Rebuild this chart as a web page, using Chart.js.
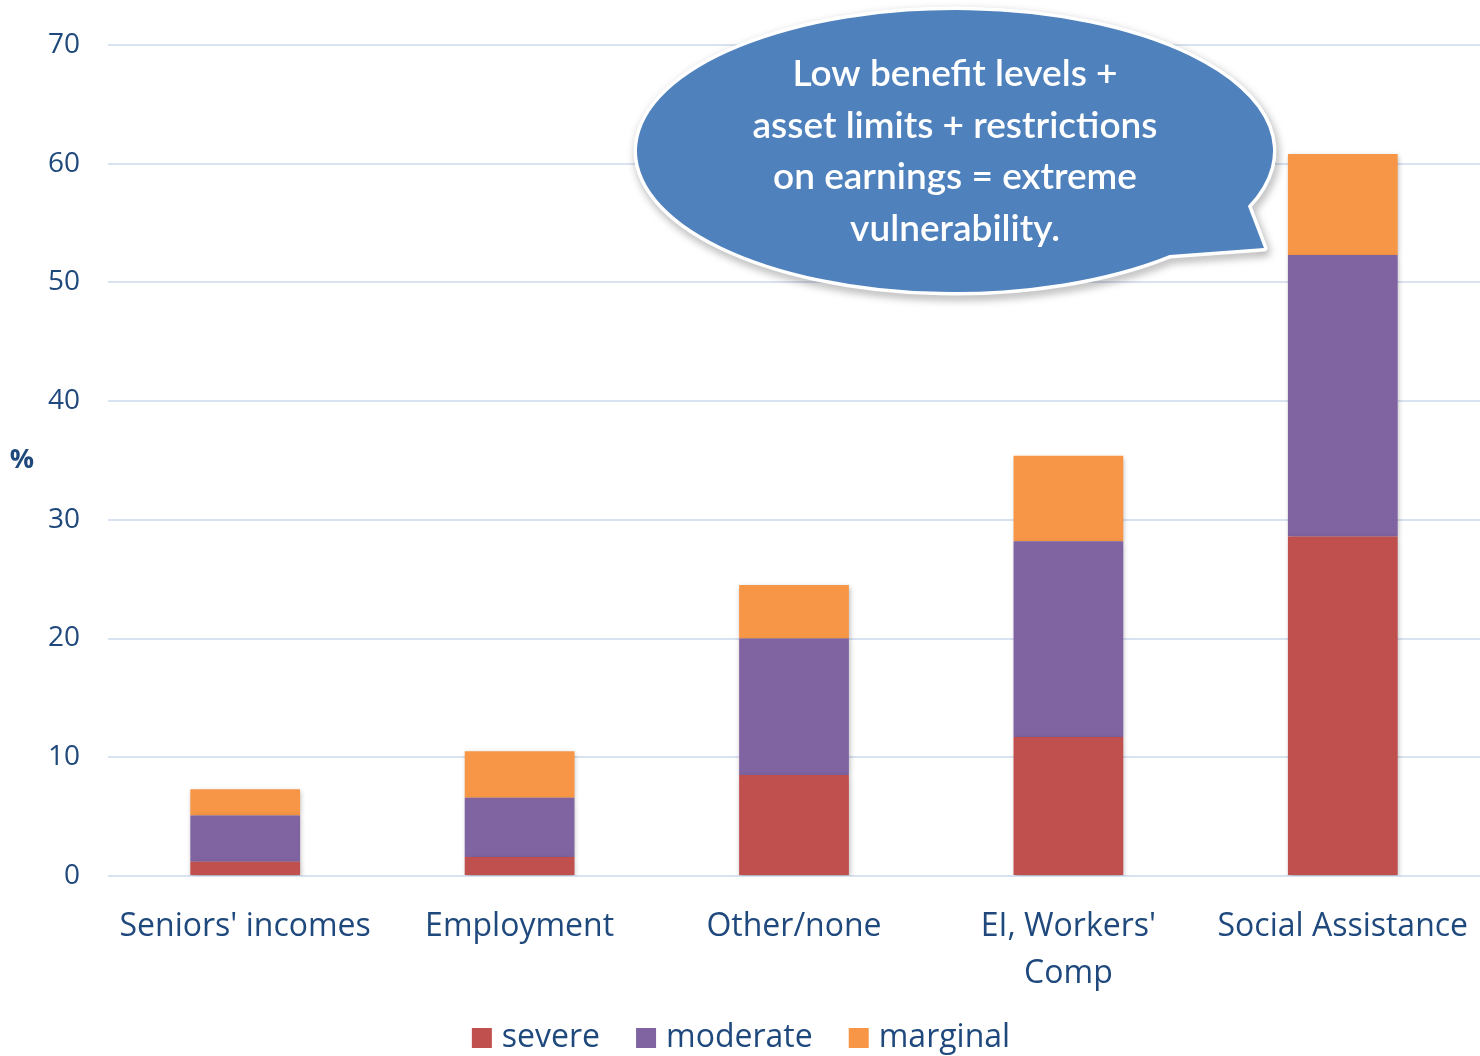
<!DOCTYPE html>
<html>
<head>
<meta charset="utf-8">
<script src="https://cdn.jsdelivr.net/npm/chart.js@4"></script>
<style>
  html, body { margin: 0; padding: 0; background: #fff; }
  #wrap { width: 1480px; height: 1056px; position: relative; }
</style>
</head>
<body>
<div id="wrap"><canvas id="chart"></canvas></div>
<script>
const categories = ["Seniors' incomes", 'Employment', 'Other/none', ["EI, Workers'", 'Comp'], 'Social Assistance'];
const severe   = [1.2, 1.6, 8.5, 11.7, 28.6];
const moderate = [3.9, 5.0, 11.5, 16.5, 23.7];
const marginal = [2.2, 3.9, 4.5, 7.2, 8.5];
const yTicks = [0, 10, 20, 30, 40, 50, 60, 70];
const calloutLines = ['Low benefit levels +', 'asset limits + restrictions', 'on earnings = extreme', 'vulnerability.'];

const textColor = '#1F497D';
const baseFont = 'Open Sans, Noto Sans, sans-serif';

// soft drop shadow under the bars
const barShadow = {
  id: 'barShadow',
  beforeDatasetsDraw(chart) {
    const ctx = chart.ctx;
    ctx.save();
    ctx.shadowColor = 'rgba(0,0,0,0.28)';
    ctx.shadowBlur = 5;
    ctx.shadowOffsetX = 1;
    ctx.shadowOffsetY = 2;
  },
  afterDatasetsDraw(chart) {
    chart.ctx.restore();
  }
};

// "%" unit label left of the y axis
const unitLabel = {
  id: 'unitLabel',
  afterDraw(chart) {
    const ctx = chart.ctx;
    const y = chart.scales.y.getPixelForValue(35);
    ctx.save();
    ctx.fillStyle = textColor;
    ctx.font = 'bold 27px ' + baseFont;
    ctx.textAlign = 'center';
    ctx.textBaseline = 'middle';
    ctx.fillText('%', 22, y);
    ctx.restore();
  }
};

// legend row under the axis labels
const bottomLegend = {
  id: 'bottomLegend',
  afterDraw(chart) {
    const ctx = chart.ctx;
    const box = 20, gapText = 10, gapItem = 36, y = 1038;
    ctx.save();
    ctx.font = '32px ' + baseFont;
    const sets = chart.data.datasets;
    const widths = sets.map(ds => box + gapText + ctx.measureText(ds.label).width);
    const total = widths.reduce((a, b) => a + b, 0) + gapItem * (sets.length - 1);
    let x = chart.width / 2 + 1 - total / 2;
    ctx.textBaseline = 'middle';
    ctx.textAlign = 'left';
    sets.forEach((ds, i) => {
      ctx.fillStyle = ds.backgroundColor;
      ctx.fillRect(x, y - box / 2, box, box);
      ctx.fillStyle = textColor;
      ctx.fillText(ds.label, x + box + gapText, y);
      x += widths[i] + gapItem;
    });
    ctx.restore();
  }
};

// speech bubble with the annotation text
const callout = {
  id: 'callout',
  afterDraw(chart) {
    const ctx = chart.ctx;
    const cx = 955, cy = 151, rx = 318, ry = 141;
    const a0 = 0.83, a1 = 0.40;
    ctx.save();
    ctx.beginPath();
    ctx.ellipse(cx, cy, rx, ry, 0, a0, Math.PI * 2 + a1, false);
    ctx.lineTo(1264, 248);
    ctx.closePath();
    ctx.shadowColor = 'rgba(0,0,0,0.35)';
    ctx.shadowBlur = 8;
    ctx.shadowOffsetX = 2;
    ctx.shadowOffsetY = 4;
    ctx.lineWidth = 7;
    ctx.strokeStyle = '#ffffff';
    ctx.lineJoin = 'round';
    ctx.stroke();
    ctx.shadowColor = 'transparent';
    ctx.fillStyle = '#4F81BD';
    ctx.fill();
    ctx.fillStyle = '#ffffff';
    ctx.font = '600 37px Lato, ' + baseFont;
    ctx.textAlign = 'center';
    ctx.textBaseline = 'middle';
    calloutLines.forEach((line, i) => {
      ctx.fillText(line, cx, 74 + i * 51.7);
    });
    ctx.restore();
  }
};

const ctx = document.getElementById('chart').getContext('2d');
new Chart(ctx, {
  type: 'bar',
  data: {
    labels: categories,
    datasets: [
      { label: 'severe', data: severe, backgroundColor: '#C0504D' },
      { label: 'moderate', data: moderate, backgroundColor: '#8064A2' },
      { label: 'marginal', data: marginal, backgroundColor: '#F79646' }
    ]
  },
  options: {
    responsive: true,
    maintainAspectRatio: false,
    animation: false,
    layout: { padding: { top: 34, right: 0, bottom: 30, left: 0 } },
    datasets: {
      bar: { barPercentage: 0.4, categoryPercentage: 1.0, borderWidth: 0 }
    },
    scales: {
      x: {
        stacked: true,
        grid: { display: false },
        border: { display: false },
        ticks: {
          color: textColor,
          font: { size: 32, family: baseFont, lineHeight: 1.45 },
          padding: 20,
          maxRotation: 0,
          autoSkip: false
        },
        afterFit(scale) {
          scale.height = 150;
          scale.paddingLeft = 0;
          scale.paddingRight = 0;
        }
      },
      y: {
        stacked: true,
        min: 0,
        max: 70,
        afterBuildTicks(scale) { scale.ticks = yTicks.map(v => ({ value: v })); },
        grid: { color: '#D9E2F0', lineWidth: 2, drawTicks: false },
        border: { display: false },
        ticks: {
          color: textColor,
          font: { size: 28, family: baseFont },
          padding: 28
        },
        afterFit(scale) { scale.width = 108; }
      }
    },
    plugins: {
      legend: { display: false },
      tooltip: { enabled: false }
    }
  },
  plugins: [barShadow, unitLabel, bottomLegend, callout]
});
</script>
</body>
</html>
